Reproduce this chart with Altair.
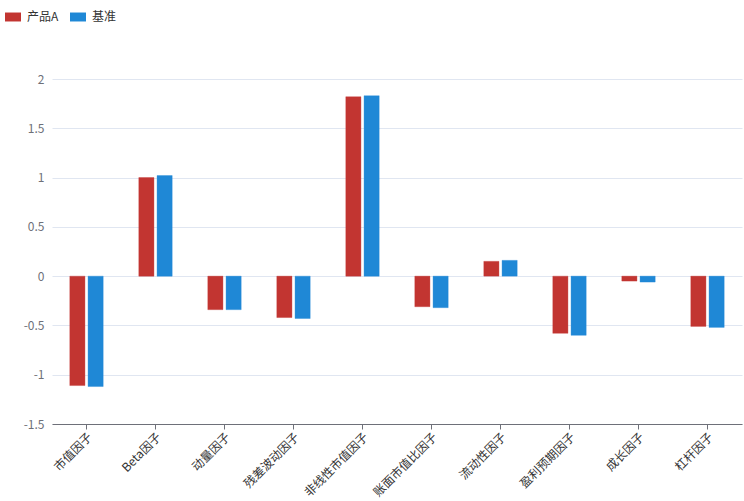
import altair as alt
import pandas as pd

factors = ["市值因子", "Beta因子", "动量因子", "残差波动因子", "非线性市值因子",
           "账面市值比因子", "流动性因子", "盈利预期因子", "成长因子", "杠杆因子"]
series_names = ["产品A", "基准"]
product_a = [-1.11, 1.00, -0.34, -0.42, 1.82, -0.31, 0.15, -0.58, -0.05, -0.51]
benchmark = [-1.12, 1.02, -0.34, -0.43, 1.83, -0.32, 0.16, -0.60, -0.06, -0.52]
y_ticks = [-1.5, -1, -0.5, 0, 0.5, 1, 1.5, 2]
colors = ["#C23531", "#1F88D6"]

rows = []
for f, a, b in zip(factors, product_a, benchmark):
    rows.append({"factor": f, "series": series_names[0], "value": a})
    rows.append({"factor": f, "series": series_names[1], "value": b})
df = pd.DataFrame(rows)

font = "Noto Sans CJK SC"

chart = alt.Chart(df).mark_bar(strokeWidth=1, strokeOpacity=0.35).encode(
    x=alt.X("factor:N", sort=factors, title=None,
            scale=alt.Scale(paddingInner=0.5, paddingOuter=0.25),
            axis=alt.Axis(labelAngle=-45, labelAlign="right", labelBaseline="top",
                          labelColor="#333333", labelFontSize=12, labelFont=font,
                          domainColor="#6E7079", tickColor="#6E7079", tickSize=5,
                          labelPadding=2, grid=False, labelOverlap=False)),
    xOffset=alt.XOffset("series:N", sort=series_names,
                        scale=alt.Scale(paddingInner=0.17, paddingOuter=0.03)),
    y=alt.Y("value:Q", title=None,
            scale=alt.Scale(domain=[-1.5, 2], nice=False, zero=True),
            axis=alt.Axis(values=y_ticks, labelExpr="datum.value + ''",
                          labelColor="#6E7079", labelFontSize=12, labelFont=font,
                          domain=False, ticks=False, labelPadding=8,
                          gridColor="#E0E6F1", gridWidth=1)),
    color=alt.Color("series:N", sort=series_names,
                    scale=alt.Scale(domain=series_names, range=colors),
                    legend=alt.Legend(title=None, orient="none", legendX=-47, legendY=-70,
                                      direction="horizontal",
                                      symbolType="M-1,-0.56H1V0.56H-1Z",
                                      symbolSize=256, symbolStrokeWidth=0,
                                      labelFontSize=12, labelColor="#333333",
                                      labelFont=font, labelOffset=6,
                                      columnPadding=11)),
    stroke=alt.Stroke("series:N", sort=series_names,
                      scale=alt.Scale(domain=series_names, range=colors), legend=None),
).properties(
    width=690, height=345,
    padding={"left": 52, "top": 79, "right": 2, "bottom": 77},
    autosize="none",
).configure(font=font, view=alt.ViewConfig(stroke=None))

chart.save("out.html", embed_options={"renderer": "svg", "actions": False})
